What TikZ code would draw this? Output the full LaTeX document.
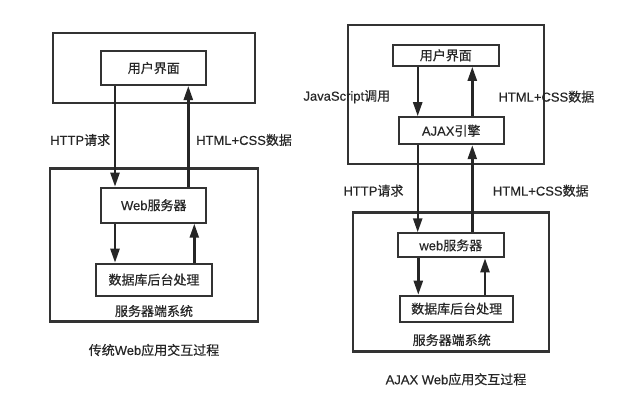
\documentclass[tikz,border=0pt]{standalone}
\usepackage{fontspec}
\setmainfont{Liberation Sans}[FakeBold=0.3]
\newfontfamily\cjk{Noto Sans CJK SC}[FakeBold=0.5]
\usetikzlibrary{arrows.meta}

\definecolor{ink}{HTML}{262626}
\definecolor{edge}{HTML}{333333}

\tikzset{
    box/.style={draw=edge, line width=2pt, text=ink, inner sep=0pt, font=\fontsize{13}{15}\selectfont},
    frame/.style={draw=edge, line width=2.2pt, inner sep=0pt},
    lbl/.style={text=ink, inner sep=0pt, font=\fontsize{13}{15}\selectfont},
    flow/.style={draw=ink, line width=2.4pt, -{Triangle[width=9pt,length=14pt]}}
}

\begin{document}
\begin{tikzpicture}[x=1pt,y=-1pt]
    \useasboundingbox (0,0) rectangle (625,418);

    % traditional web application
    \node[frame, minimum width=202pt, minimum height=70pt] (client1) at (153.7,68.3) {};
    \node[frame, minimum width=208pt, minimum height=153pt] (server1) at (154.2,245) {};
    \node[box, minimum width=105pt, minimum height=34pt] (ui1) at (153.8,68) {\cjk 用户界面};
    \node[box, minimum width=105pt, minimum height=35pt] (web1) at (153.8,205.2) {Web{\cjk 服务器}};
    \node[box, minimum width=116pt, minimum height=32pt] (db1) at (154,279.7) {\cjk 数据库后台处理};
    \node[lbl, anchor=west] (req1) at (50,140) {HTTP{\cjk 请求}};
    \node[lbl, anchor=west] (resp1) at (196,140) {HTML+CSS{\cjk 数据}};
    \node[lbl] (sys1) at (154,311) {\cjk 服务器端系统};
    \node[lbl] (title1) at (154,350) {{\cjk 传统}Web{\cjk 应用交互过程}};

    \draw[flow] (115,0 |- ui1.south) -- (115,0 |- web1.north);
    \draw[flow] (188.3,0 |- web1.north) -- (188.3,0 |- ui1.south);
    \draw[flow] (115,0 |- web1.south) -- (115,0 |- db1.north);
    \draw[flow] (194.3,0 |- db1.north) -- (194.3,0 |- web1.south);

    % ajax web application
    \node[frame, minimum width=196pt, minimum height=139pt] (client2) at (446,94.2) {};
    \node[frame, minimum width=196pt, minimum height=139pt] (server2) at (451,282) {};
    \node[box, minimum width=106pt, minimum height=21pt] (ui2) at (445.8,55.3) {\cjk 用户界面};
    \node[box, minimum width=105pt, minimum height=27pt] (ajax) at (451.2,130.7) {AJAX{\cjk 引擎}};
    \node[box, minimum width=106pt, minimum height=24pt] (web2) at (450.8,245.3) {web{\cjk 服务器}};
    \node[box, minimum width=113pt, minimum height=26pt] (db2) at (456.7,308.7) {\cjk 数据库后台处理};
    \node[lbl, anchor=west] (js) at (303.3,96.7) {JavaScript{\cjk 调用}};
    \node[lbl, anchor=west] (resp2) at (498.3,96.7) {HTML+CSS{\cjk 数据}};
    \node[lbl, anchor=west] (req2) at (343.3,190.7) {HTTP{\cjk 请求}};
    \node[lbl, anchor=west] (resp3) at (492.7,190.7) {HTML+CSS{\cjk 数据}};
    \node[lbl] (sys2) at (451.7,340) {\cjk 服务器端系统};
    \node[lbl] (title2) at (456,379.3) {AJAX Web{\cjk 应用交互过程}};

    \draw[flow] (417.7,0 |- ui2.south) -- (417.7,0 |- ajax.north);
    \draw[flow] (472.3,0 |- ajax.north) -- (472.3,0 |- ui2.south);
    \draw[flow] (417.7,0 |- ajax.south) -- (417.7,0 |- web2.north);
    \draw[flow] (472.3,0 |- web2.north) -- (472.3,0 |- ajax.south);
    \draw[flow] (418.3,0 |- web2.south) -- (418.3,0 |- db2.north);
    \draw[flow] (485,0 |- db2.north) -- (485,0 |- web2.south);
\end{tikzpicture}
\end{document}
